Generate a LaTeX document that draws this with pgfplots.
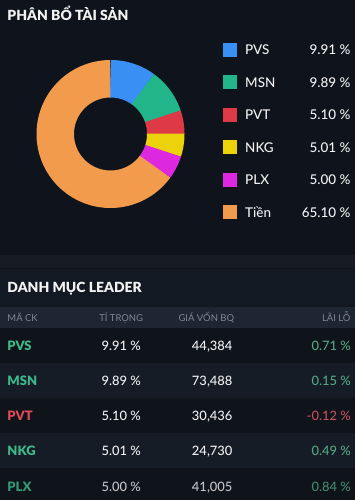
\documentclass[border=0pt]{standalone}
\usepackage{pgfplots}
\pgfplotsset{compat=1.18}
\usepackage{fontspec}
\setmainfont{Lato}
\newfontfamily\hv{Lato Black}
\newfontfamily\md{Lato Medium}
\definecolor{bg}{HTML}{0F131B}
\definecolor{band}{HTML}{171C24}
\definecolor{sect}{HTML}{131922}
\definecolor{hdr}{HTML}{1D2632}
\definecolor{rowd}{HTML}{0F131A}
\definecolor{rowl}{HTML}{161C25}
\definecolor{cPVS}{HTML}{3A8FF5}
\definecolor{cMSN}{HTML}{22B589}
\definecolor{cPVT}{HTML}{DE3A45}
\definecolor{cNKG}{HTML}{ECD20A}
\definecolor{cPLX}{HTML}{DD28E0}
\definecolor{cTIEN}{HTML}{F29B4C}
\definecolor{hdrtxt}{HTML}{7E8794}
\definecolor{tgreen}{HTML}{3DB98B}
\definecolor{tred}{HTML}{E04A5A}
\definecolor{pgreen}{HTML}{52A884}
\definecolor{pred}{HTML}{C5505C}
\definecolor{wtxt}{HTML}{F2F2F2}
% data (percent of portfolio)
\def\vPVS{9.91}
\def\vMSN{9.89}
\def\vPVT{5.10}
\def\vNKG{5.01}
\def\vPLX{5.00}
\def\vTIEN{65.10}
\pgfmathsetmacro\aB{\vPVS*3.6}
\pgfmathsetmacro\aC{(\vPVS+\vMSN)*3.6}
\pgfmathsetmacro\aD{(\vPVS+\vMSN+\vPVT)*3.6}
\pgfmathsetmacro\aE{(\vPVS+\vMSN+\vPVT+\vNKG)*3.6}
\pgfmathsetmacro\aF{(\vPVS+\vMSN+\vPVT+\vNKG+\vPLX)*3.6}
\pgfmathsetmacro\aG{(\vPVS+\vMSN+\vPVT+\vNKG+\vPLX+\vTIEN)*3.6}
\def\cx{110.5}
\def\cy{134}
\def\rr{55.25}
\newcommand\fs[1]{\fontsize{#1}{#1}\selectfont}
\begin{document}
\begin{tikzpicture}
\begin{axis}[
  x=1bp, y=1bp, scale only axis,
  xmin=0, xmax=355, ymin=0, ymax=500, y dir=reverse,
  hide axis, clip=false, enlargelimits=false,
]
% backgrounds
\addplot[fill=bg, draw=none] coordinates {(0,0)(355,0)(355,500)(0,500)} -- cycle;
\addplot[fill=band, draw=none] coordinates {(0,255)(355,255)(355,268)(0,268)} -- cycle;
\addplot[fill=sect, draw=none] coordinates {(0,269)(355,269)(355,306.5)(0,306.5)} -- cycle;
\addplot[fill=hdr, draw=none] coordinates {(0,306.5)(355,306.5)(355,327.5)(0,327.5)} -- cycle;
\addplot[fill=rowd, draw=none] coordinates {(0,327.5)(355,327.5)(355,362.7)(0,362.7)} -- cycle;
\addplot[fill=rowl, draw=none] coordinates {(0,362.7)(355,362.7)(355,397.9)(0,397.9)} -- cycle;
\addplot[fill=rowd, draw=none] coordinates {(0,397.9)(355,397.9)(355,433.1)(0,433.1)} -- cycle;
\addplot[fill=rowl, draw=none] coordinates {(0,433.1)(355,433.1)(355,468.3)(0,468.3)} -- cycle;
\addplot[fill=rowd, draw=none] coordinates {(0,468.3)(355,468.3)(355,500)(0,500)} -- cycle;
% donut
\addplot[draw=cTIEN, line width=37.5bp, domain=\aF:\aG, samples=80] ({\cx+\rr*sin(x)},{\cy-\rr*cos(x)});
\addplot[draw=cPVS, line width=37.5bp, domain=0:\aB+0.4, samples=25] ({\cx+\rr*sin(x)},{\cy-\rr*cos(x)});
\addplot[draw=cMSN, line width=37.5bp, domain=\aB:\aC+0.4, samples=25] ({\cx+\rr*sin(x)},{\cy-\rr*cos(x)});
\addplot[draw=cPVT, line width=37.5bp, domain=\aC:\aD+0.4, samples=15] ({\cx+\rr*sin(x)},{\cy-\rr*cos(x)});
\addplot[draw=cNKG, line width=37.5bp, domain=\aD:\aE+0.4, samples=15] ({\cx+\rr*sin(x)},{\cy-\rr*cos(x)});
\addplot[draw=cPLX, line width=37.5bp, domain=\aE:\aF+0.4, samples=15] ({\cx+\rr*sin(x)},{\cy-\rr*cos(x)});
% legend squares
\addplot[only marks, mark=square*, mark size=6.5, mark options={fill=cPVS, draw=cPVS, rounded corners=1.5bp}] coordinates {(229.3,49.5)};
\addplot[only marks, mark=square*, mark size=6.5, mark options={fill=cMSN, draw=cMSN, rounded corners=1.5bp}] coordinates {(229.3,82)};
\addplot[only marks, mark=square*, mark size=6.5, mark options={fill=cPVT, draw=cPVT, rounded corners=1.5bp}] coordinates {(229.3,114.5)};
\addplot[only marks, mark=square*, mark size=6.5, mark options={fill=cNKG, draw=cNKG, rounded corners=1.5bp}] coordinates {(229.3,147)};
\addplot[only marks, mark=square*, mark size=6.5, mark options={fill=cPLX, draw=cPLX, rounded corners=1.5bp}] coordinates {(229.3,179.5)};
\addplot[only marks, mark=square*, mark size=6.5, mark options={fill=cTIEN, draw=cTIEN, rounded corners=1.5bp}] coordinates {(229.3,212)};
% titles
\node[anchor=base west, inner sep=0, text=wtxt, font=\hv\fs{14}] at (axis cs:7.3,21) {PHÂN BỔ TÀI SẢN};
\node[anchor=base west, inner sep=0, text=wtxt, font=\hv\fs{14}] at (axis cs:7.3,292.7) {DANH MỤC LEADER};
% legend text
\begin{scope}[every node/.style={inner sep=0, text=wtxt, font=\md\fs{13.5}}]
\node[anchor=base west] at (axis cs:245,55) {PVS};
\node[anchor=base west] at (axis cs:245,87.5) {MSN};
\node[anchor=base west] at (axis cs:245,120) {PVT};
\node[anchor=base west] at (axis cs:245,152.5) {NKG};
\node[anchor=base west] at (axis cs:245,185) {PLX};
\node[anchor=base west] at (axis cs:245,217.5) {Tiền};
\node[anchor=base east] at (axis cs:350.7,55) {9.91 \%};
\node[anchor=base east] at (axis cs:350.7,87.5) {9.89 \%};
\node[anchor=base east] at (axis cs:350.7,120) {5.10 \%};
\node[anchor=base east] at (axis cs:350.7,152.5) {5.01 \%};
\node[anchor=base east] at (axis cs:350.7,185) {5.00 \%};
\node[anchor=base east] at (axis cs:350.7,217.5) {65.10 \%};
\end{scope}
% table header
\begin{scope}[every node/.style={inner sep=0, text=hdrtxt, font=\fs{9.5}}]
\node[anchor=base west] at (axis cs:7.3,321) {MÃ CK};
\node[anchor=base east] at (axis cs:143.3,321) {TỈ TRỌNG};
\node[anchor=base east] at (axis cs:234.3,321) {GIÁ VỐN BQ};
\node[anchor=base east] at (axis cs:350.7,321) {LÃI LỖ};
\end{scope}
% table rows
\begin{scope}[every node/.style={inner sep=0, font=\md\fs{13}}]
\node[anchor=base west, text=tgreen, font=\hv\fs{13}] at (axis cs:7.3,350) {PVS};
\node[anchor=base west, text=tgreen, font=\hv\fs{13}] at (axis cs:7.3,385.3) {MSN};
\node[anchor=base west, text=tred, font=\hv\fs{13}] at (axis cs:7.3,420.6) {PVT};
\node[anchor=base west, text=tgreen, font=\hv\fs{13}] at (axis cs:7.3,455.8) {NKG};
\node[anchor=base west, text=tgreen!80!bg, font=\hv\fs{13}] at (axis cs:7.3,491) {PLX};
\node[anchor=base east, text=wtxt] at (axis cs:141,350) {9.91 \%};
\node[anchor=base east, text=wtxt] at (axis cs:141,385.3) {9.89 \%};
\node[anchor=base east, text=wtxt] at (axis cs:141,420.6) {5.10 \%};
\node[anchor=base east, text=wtxt] at (axis cs:141,455.8) {5.01 \%};
\node[anchor=base east, text=wtxt!80!bg] at (axis cs:141,491) {5.00 \%};
\node[anchor=base east, text=wtxt] at (axis cs:232.7,350) {44,384};
\node[anchor=base east, text=wtxt] at (axis cs:232.7,385.3) {73,488};
\node[anchor=base east, text=wtxt] at (axis cs:232.7,420.6) {30,436};
\node[anchor=base east, text=wtxt] at (axis cs:232.7,455.8) {24,730};
\node[anchor=base east, text=wtxt!80!bg] at (axis cs:232.7,491) {41,005};
\node[anchor=base east, text=pgreen] at (axis cs:351,350) {0.71 \%};
\node[anchor=base east, text=pgreen] at (axis cs:351,385.3) {0.15 \%};
\node[anchor=base east, text=pred] at (axis cs:351,420.6) {-0.12 \%};
\node[anchor=base east, text=pgreen] at (axis cs:351,455.8) {0.49 \%};
\node[anchor=base east, text=pgreen!80!bg] at (axis cs:351,491) {0.84 \%};
\end{scope}
\end{axis}
\end{tikzpicture}
\end{document}
